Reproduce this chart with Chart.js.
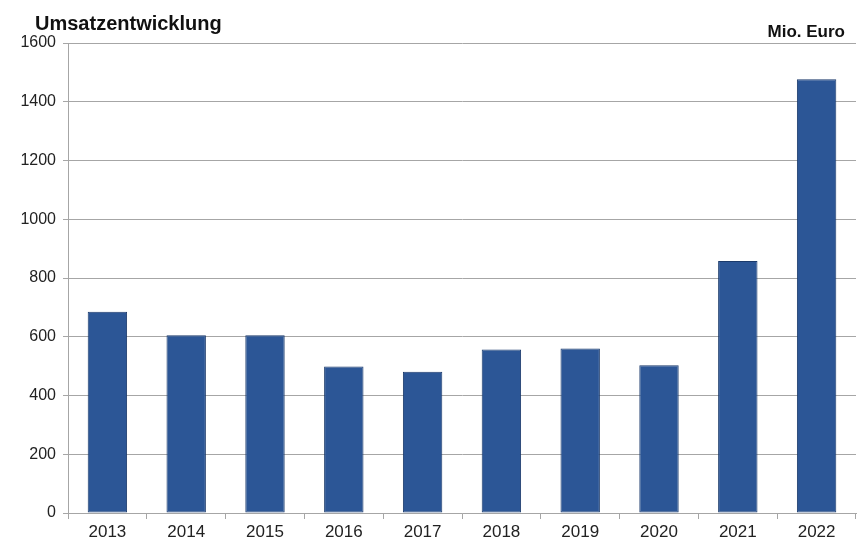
<!DOCTYPE html>
<html>
<head>
<meta charset="utf-8">
<script src="https://cdn.jsdelivr.net/npm/chart.js@4/dist/chart.umd.min.js"></script>
<style>
  html, body { margin: 0; padding: 0; background: #fff; }
  #wrap { width: 865px; height: 539px; }
</style>
</head>
<body>
<div id="wrap"><canvas id="umsatz"></canvas></div>
<script>
// Umsatz je Jahr in Mio. Euro
var years = ['2013', '2014', '2015', '2016', '2017', '2018', '2019', '2020', '2021', '2022'];
var umsatz = [685, 605, 605, 499, 481, 557, 560, 503, 858, 1477];
var yTicks = [0, 200, 400, 600, 800, 1000, 1200, 1400, 1600];

var gridColor = '#a6a6a6';
var fontFam = '"Liberation Sans", Arial, sans-serif';

// Überschrift links oben und Einheit rechts oben
var headerText = {
    id: 'headerText',
    afterDraw: function(chart) {
        var ctx = chart.ctx;
        ctx.save();
        ctx.fillStyle = '#111';
        ctx.textBaseline = 'alphabetic';
        ctx.font = 'bold 20px ' + fontFam;
        ctx.textAlign = 'left';
        ctx.fillText('Umsatzentwicklung', 35, 30);
        ctx.font = 'bold 17px ' + fontFam;
        ctx.textAlign = 'right';
        ctx.fillText('Mio. Euro', 845, 37);
        ctx.restore();
    }
};

const chart = new Chart('umsatz', {
    type: 'bar',
    data: {
        labels: years,
        datasets: [{
            data: umsatz,
            backgroundColor: '#2c5696',
            borderColor: '#1b3a6b',
            borderWidth: 1,
            borderSkipped: false,
            categoryPercentage: 1.0,
            barPercentage: 0.5
        }]
    },
    options: {
        responsive: true,
        maintainAspectRatio: false,
        animation: false,
        layout: { padding: { top: 43, right: 9, left: 0, bottom: 0 } },
        plugins: {
            legend: { display: false },
            tooltip: { enabled: false }
        },
        scales: {
            x: {
                grid: {
                    offset: true,
                    drawOnChartArea: false,
                    drawTicks: true,
                    tickLength: 6,
                    color: gridColor
                },
                border: { color: gridColor },
                ticks: {
                    color: '#222',
                    padding: 3,
                    font: { family: fontFam, size: 17 }
                },
                afterFit: function(s) { s.height = 26; }
            },
            y: {
                min: 0,
                max: 1600,
                afterBuildTicks: function(s) {
                    s.ticks = yTicks.map(function(v) { return { value: v }; });
                },
                grid: {
                    color: gridColor,
                    tickLength: 5
                },
                border: { color: gridColor },
                ticks: {
                    color: '#222',
                    padding: 7,
                    font: { family: fontFam, size: 16 },
                    callback: function(v) { return String(v); }
                },
                afterFit: function(s) { s.width = 68; }
            }
        }
    },
    plugins: [headerText]
});
</script>
</body>
</html>
